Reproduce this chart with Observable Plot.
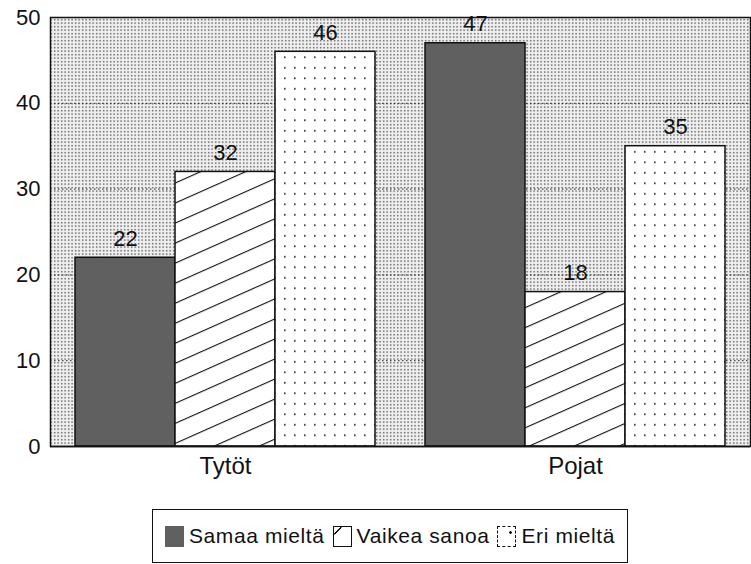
<!DOCTYPE html>
<html>
<head>
<meta charset="utf-8">
<script src="https://cdn.jsdelivr.net/npm/d3@7"></script>
<script src="https://cdn.jsdelivr.net/npm/@observablehq/plot@0.6"></script>
<style>
  body { margin: 0; background: #fff; font-family: "Liberation Sans", Arial, sans-serif; }
  #chart svg text { font-size: 22px; fill: #111; }
  #chart svg g[aria-label^="x-axis"] text { font-size: 24px; }
  #legend {
    margin-left: 152px; margin-top: 19px; width: 476px; height: 54px;
    border: 1.5px solid #111; box-sizing: border-box;
    display: flex; align-items: center; justify-content: center;
    font-size: 21px; color: #111; letter-spacing: 0.6px; white-space: nowrap;
  }
  .item { display: flex; align-items: center; margin: 0 4px; flex-shrink: 0; }
  .sw { width: 19px; height: 21px; margin-right: 5px; box-sizing: border-box; flex-shrink: 0; }
</style>
</head>
<body>
<div id="chart"></div>
<div id="legend"></div>
<script>
const groups = ["Tytöt", "Pojat"];
const series = ["Samaa mieltä", "Vaikea sanoa", "Eri mieltä"];
const tytot = [22, 32, 46];
const pojat = [47, 18, 35];
const yTicks = [0, 10, 20, 30, 40, 50];
const fills = ["#606060", "url(#hatch)", "url(#sparse)"];

const data = [];
series.forEach((s, i) => {
  data.push({group: groups[0], series: s, value: tytot[i]});
  data.push({group: groups[1], series: s, value: pojat[i]});
});

const W = 751, H = 490, mL = 50, mR = 1, mT = 17, mB = 44;
const padIn = 1 / 7, padOut = 1 / 14;
const bw = d3.scaleBand(groups, [mL, W - mR]).paddingInner(padIn).paddingOuter(padOut).bandwidth();
const sub = bw / series.length;

const barMarks = [];
const labelMarks = [];
series.forEach((s, i) => {
  const rows = data.filter(d => d.series === s);
  barMarks.push(Plot.barY(rows, {
    x: "group", y: "value", fill: fills[i], stroke: "#111", strokeWidth: 1.5,
    insetLeft: i * sub, insetRight: (series.length - 1 - i) * sub
  }));
  labelMarks.push(Plot.text(rows, {
    x: "group", y: "value", text: d => String(d.value),
    dx: (i - (series.length - 1) / 2) * sub, dy: -19, fill: "#111"
  }));
});

const plot = Plot.plot({
  width: W, height: H,
  marginLeft: mL, marginRight: mR, marginTop: mT, marginBottom: mB,
  style: {fontFamily: "Liberation Sans, Arial, sans-serif", color: "#111", background: "transparent"},
  x: {domain: groups, paddingInner: padIn, paddingOuter: padOut, label: null, tickSize: 0, tickPadding: 10},
  y: {domain: [0, 50], ticks: yTicks, tickSize: 0, tickPadding: 10, label: null},
  marks: [
    Plot.frame({fill: "url(#bgdots)", stroke: null}),
    Plot.gridY(yTicks.slice(1, -1), {stroke: "#222", strokeOpacity: 1, strokeWidth: 1, strokeDasharray: "1.5,2.5"}),
    ...barMarks,
    Plot.frame({stroke: "#111", strokeWidth: 1.5}),
    Plot.ruleY([0], {stroke: "#111", strokeWidth: 1.5}),
    ...labelMarks
  ]
});

const svg = plot.tagName.toLowerCase() === "svg" ? plot : plot.querySelector("svg");
const ns = "http://www.w3.org/2000/svg";
const defs = document.createElementNS(ns, "defs");
defs.innerHTML = `
  <pattern id="bgdots" width="3.5" height="3.5" patternUnits="userSpaceOnUse">
    <rect width="3.5" height="3.5" fill="#efefef"/>
    <rect x="1" y="1" width="1.3" height="1.3" fill="#3a3a3a"/>
  </pattern>
  <pattern id="hatch" width="10" height="18.3" patternUnits="userSpaceOnUse" patternTransform="rotate(-24)">
    <rect width="10" height="18.3" fill="#fff"/>
    <line x1="0" y1="0.5" x2="10" y2="0.5" stroke="#111" stroke-width="1.2"/>
  </pattern>
  <pattern id="sparse" width="10" height="10.5" patternUnits="userSpaceOnUse">
    <rect width="10" height="10.5" fill="#fff"/>
    <rect x="4" y="4" width="1.6" height="1.6" fill="#222"/>
  </pattern>`;
svg.insertBefore(defs, svg.firstChild);

document.getElementById("chart").appendChild(plot);

const legend = document.getElementById("legend");
const swStyles = [
  "background:#606060;",
  "border:1.5px solid #111;background:linear-gradient(to bottom right, transparent 42%, #111 44%, #111 56%, transparent 58%) no-repeat 0 0/45% 40%, #fff;",
  "border:1.5px dashed #111;background:radial-gradient(circle, #111 1px, transparent 1.6px) no-repeat 10px 3px/5px 5px, #fff;"
];
series.forEach((s, i) => {
  const it = document.createElement("div");
  it.className = "item";
  it.innerHTML = `<div class="sw" style="${swStyles[i]}"></div><span>${s}</span>`;
  legend.appendChild(it);
});
</script>
</body>
</html>
